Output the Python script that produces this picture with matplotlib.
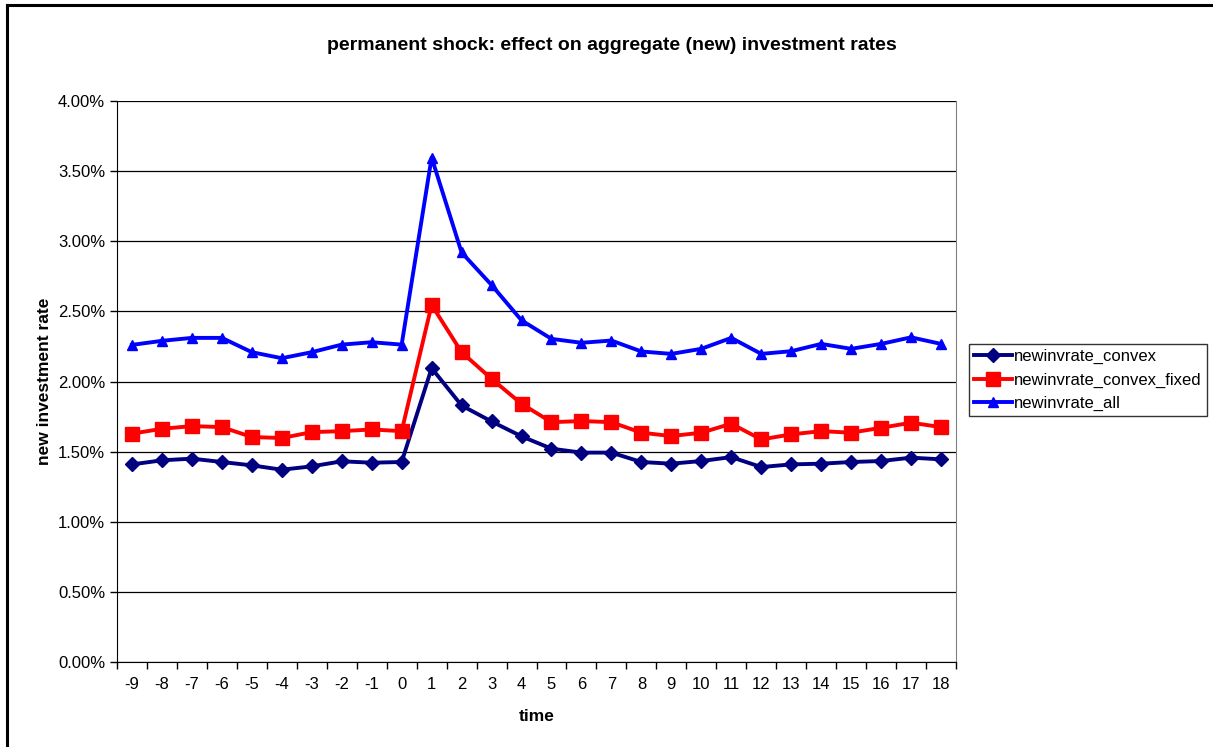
import numpy as np
import matplotlib.pyplot as plt
from matplotlib.ticker import FuncFormatter, FixedLocator

plt.rcParams['font.family'] = ['Liberation Sans', 'DejaVu Sans']

time = list(range(-9, 19))
newinvrate_convex = [1.409, 1.438, 1.450, 1.426, 1.402, 1.371, 1.395, 1.431, 1.421, 1.426,
                     2.095, 1.829, 1.715, 1.609, 1.521, 1.493, 1.493, 1.426, 1.414, 1.433,
                     1.461, 1.390, 1.409, 1.414, 1.426, 1.433, 1.457, 1.445]
newinvrate_convex_fixed = [1.628, 1.663, 1.682, 1.675, 1.604, 1.597, 1.639, 1.646, 1.658, 1.646,
                           2.546, 2.209, 2.019, 1.841, 1.710, 1.718, 1.710, 1.635, 1.611, 1.635,
                           1.699, 1.587, 1.623, 1.646, 1.635, 1.670, 1.706, 1.675]
newinvrate_all = [2.261, 2.290, 2.311, 2.311, 2.209, 2.166, 2.209, 2.263, 2.280, 2.263,
                  3.597, 2.920, 2.688, 2.436, 2.304, 2.276, 2.292, 2.214, 2.197, 2.233,
                  2.311, 2.197, 2.216, 2.268, 2.233, 2.268, 2.315, 2.268]

fig = plt.figure(figsize=(12.13, 7.47), dpi=100)
ax = fig.add_axes([117/1213, 85/747, (956-117)/1213, (662-101)/747])

x = np.array(time)
ax.plot(x, np.array(newinvrate_convex) / 100, color='#000080', lw=2.8, marker='D',
        markersize=7.5, label='newinvrate_convex', zorder=3)
ax.plot(x, np.array(newinvrate_convex_fixed) / 100, color='#FF0000', lw=2.8, marker='s',
        markersize=10.5, label='newinvrate_convex_fixed', zorder=3)
ax.plot(x, np.array(newinvrate_all) / 100, color='#0000FF', lw=2.8, marker='^',
        markersize=6.5, label='newinvrate_all', zorder=3)

ax.set_xlim(time[0] - 0.5, time[-1] + 0.5)
ax.set_ylim(0, 0.04)
ax.set_yticks(np.arange(0, 0.0401, 0.005))
ax.yaxis.set_major_formatter(FuncFormatter(lambda v, p: f"{v * 100:.2f}%"))
ax.xaxis.set_major_locator(FixedLocator(np.arange(time[0] - 0.5, time[-1] + 0.51, 1)))
ax.xaxis.set_major_formatter(FuncFormatter(lambda v, p: ''))
ax.xaxis.set_minor_locator(FixedLocator(time))
ax.xaxis.set_minor_formatter(FuncFormatter(lambda v, p: f"{int(round(v))}"))
ax.tick_params(axis='x', which='major', direction='out', length=5, width=1, color='black')
ax.tick_params(axis='x', which='minor', length=0, pad=11, labelsize=12)
ax.tick_params(axis='y', direction='out', length=5, width=1, labelsize=12)

ax.grid(axis='y', color='black', lw=0.9, zorder=0)
ax.spines['top'].set_visible(False)
ax.spines['right'].set_color('#808080')
ax.spines['left'].set_color('black')
ax.spines['bottom'].set_color('black')

fig.text(612/1213, 1 - 45/747, 'permanent shock: effect on aggregate (new) investment rates',
         fontsize=14, fontweight='bold', ha='center', va='center')
ax.set_xlabel('time', fontsize=12.5, fontweight='bold', labelpad=12)
ax.set_ylabel('new investment rate', fontsize=12.5, fontweight='bold', labelpad=4)

leg = ax.legend(loc='upper left', bbox_to_anchor=(969/1213, (747-344)/747),
                bbox_transform=fig.transFigure, frameon=True, fancybox=False,
                edgecolor='black', fontsize=12, borderpad=0.3, labelspacing=0.5,
                handlelength=2.3, handletextpad=0.1, borderaxespad=0)
leg.get_frame().set_linewidth(1)

# outer chart frame
fig.add_artist(plt.Line2D([7/1213, 7/1213], [0, 1 - 5/747], transform=fig.transFigure,
                          color='black', lw=2.2))
fig.add_artist(plt.Line2D([7/1213, 1], [1 - 5/747, 1 - 5/747], transform=fig.transFigure,
                          color='black', lw=2.2))

fig.savefig('out.png', dpi=100)
